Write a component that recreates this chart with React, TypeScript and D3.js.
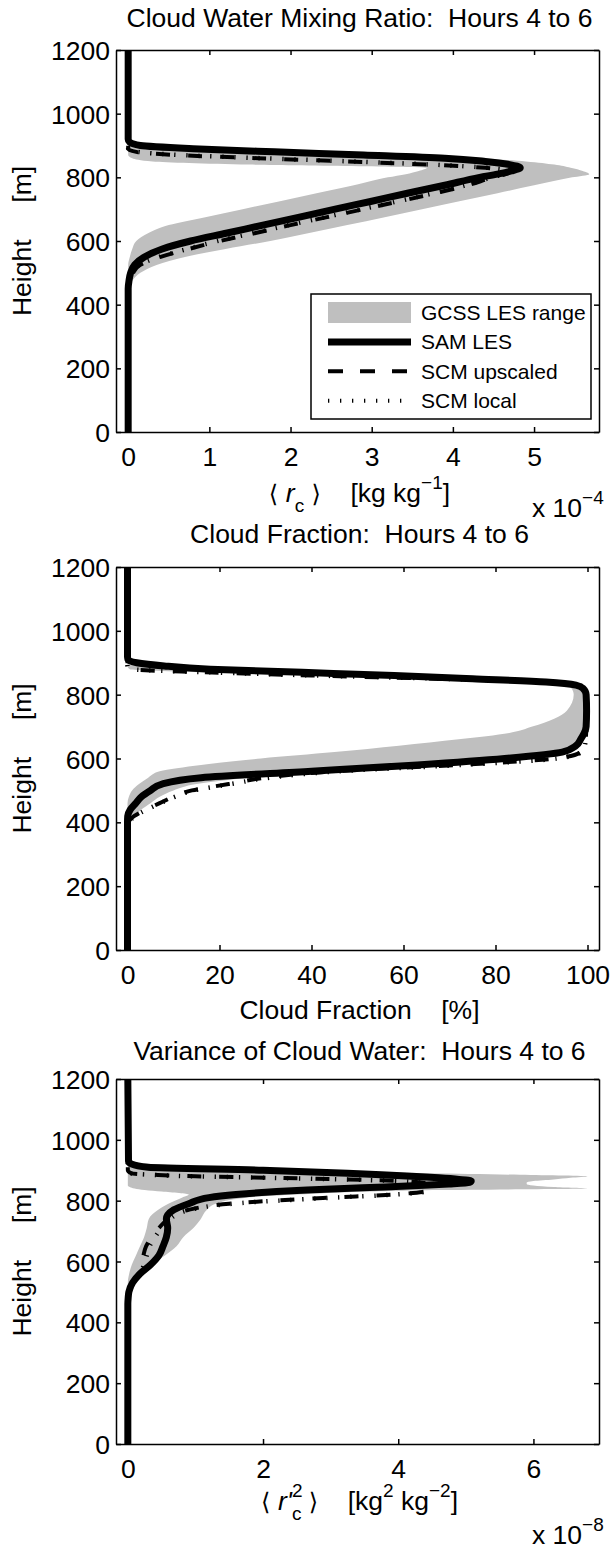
import { useRef, useEffect } from 'react';
import * as d3 from 'd3';

const W = 613;
const H = 1549;
const LEFT = 116;
const RIGHT = 599;
const FONT = 'Liberation Sans, Arial, Helvetica, sans-serif';
const FS = 26.5;
const GRAY = '#bfbfbf';

const heightTicks = [0, 200, 400, 600, 800, 1000, 1200];
const legendLabels = ['GCSS LES range', 'SAM LES', 'SCM upscaled', 'SCM local'];

// cloud water mixing ratio, x 1e-4 kg/kg
const rcHeight = [0, 425, 450, 475, 500, 525, 550, 575, 600, 625, 650, 675, 700, 725, 750, 775, 800, 810, 820, 830, 840, 850, 860, 870, 880, 890, 900, 910, 920, 1200];
const rcLesMin = [0, 0, 0, 0, 0, 0, 0.02, 0.05, 0.1, 0.25, 0.5, 0.95, 1.41, 1.87, 2.32, 2.78, 3.2, 3.42, 3.58, 3.68, 1.5, 0.3, 0.05, 0, 0, 0, 0, 0, 0, 0];
const rcLesMax = [0, 0, 0, 0.05, 0.15, 0.35, 0.7, 1.2, 1.75, 2.23, 2.7, 3.16, 3.62, 4.08, 4.55, 5.0, 5.47, 5.68, 5.6, 5.45, 5.25, 4.9, 4.3, 3.4, 2.4, 1.4, 0.6, 0.15, 0.02, 0];
const rcSam = [0, 0, 0, 0.01, 0.03, 0.08, 0.2, 0.42, 0.77, 1.22, 1.66, 2.11, 2.55, 3.0, 3.44, 3.9, 4.33, 4.55, 4.72, 4.83, 4.7, 4.4, 3.9, 2.9, 1.8, 0.8, 0.15, 0.02, 0, 0];
const rcUpscaled = [0, 0, 0, 0.02, 0.06, 0.15, 0.4, 0.75, 1.13, 1.57, 2.0, 2.45, 2.9, 3.35, 3.78, 4.18, 4.5, 4.65, 4.72, 4.4, 3.7, 2.7, 1.6, 0.6, 0.1, 0, 0, 0, 0, 0];
const rcLocal = [0, 0, 0, 0.02, 0.05, 0.14, 0.38, 0.73, 1.1, 1.55, 1.98, 2.43, 2.88, 3.33, 3.76, 4.16, 4.48, 4.63, 4.7, 4.42, 3.75, 2.75, 1.65, 0.65, 0.12, 0, 0, 0, 0, 0];
const rcTicks = [0, 1, 2, 3, 4, 5];

// cloud fraction, %
const cfHeight = [0, 380, 400, 420, 440, 460, 480, 500, 520, 540, 560, 580, 600, 620, 640, 660, 680, 700, 750, 800, 820, 830, 840, 850, 860, 870, 880, 890, 900, 910, 920, 1200];
const cfLesMin = [0, 0, 0, 0, 0, 0, 0.3, 1, 2.5, 4.5, 7, 16, 29, 45, 59, 72, 83, 88, 95.5, 97, 96.5, 95, 91, 67, 40, 17, 0.5, 0, 0, 0, 0, 0];
const cfLesMax = [0, 0, 0.5, 1.5, 3, 5, 7, 10, 15, 27, 50, 72, 88, 96, 98.5, 99.2, 99.4, 99.4, 99.4, 99.4, 99.2, 98.8, 97, 90, 72, 50, 28, 12, 4, 1, 0, 0];
const cfSam = [0, 0, 0, 0.05, 0.6, 1.8, 3, 5, 7.5, 16, 40, 63, 82, 94.5, 97.5, 98.5, 99.3, 99.7, 99.8, 99.7, 99, 97.5, 91, 75, 58, 38, 18, 8, 2, 0.1, 0, 0];
const cfUpscaled = [0, 0, 0.2, 1.5, 4, 7, 10, 14, 22, 30, 45, 72, 93, 98.5, 99.4, 99.6, 99.7, 99.7, 99.7, 99.7, 99.5, 98, 91, 67, 40, 17, 0.5, 0, 0, 0, 0, 0];
const cfLocal = [0, 0, 0.3, 1.7, 4.2, 7.2, 10.3, 14.5, 22.5, 31, 46, 73, 93.5, 98.6, 99.4, 99.6, 99.7, 99.7, 99.7, 99.7, 99.5, 98, 91.5, 68, 41, 18, 0.8, 0, 0, 0, 0, 0];
const cfTicks = [0, 20, 40, 60, 80, 100];

// variance of cloud water, x 1e-8 kg^2/kg^2
const vrHeight = [0, 460, 480, 500, 530, 560, 590, 620, 650, 680, 710, 740, 770, 790, 810, 820, 830, 835, 840, 845, 850, 855, 860, 865, 870, 875, 880, 885, 890, 900, 910, 920, 930, 1200];
const vrLesMin = [0, 0, 0, 0, 0, 0.02, 0.06, 0.12, 0.18, 0.24, 0.28, 0.31, 0.45, 0.6, 0.8, 0.9, 0.5, 0.25, 0.1, 0.03, 0, 0, 0, 0, 0, 0, 0, 0, 0, 0, 0, 0, 0, 0];
const vrLesMax = [0, 0, 0.02, 0.05, 0.1, 0.2, 0.33, 0.55, 0.72, 0.82, 0.97, 1.08, 1.17, 1.3, 1.75, 2.5, 3.6, 4.6, 6.8, 6.3, 6.0, 5.9, 5.9, 6.0, 6.3, 6.55, 6.8, 5.8, 4.46, 3.0, 1.5, 0.4, 0.05, 0];
const vrSam = [0, 0, 0.005, 0.015, 0.07, 0.18, 0.34, 0.46, 0.52, 0.57, 0.59, 0.57, 0.68, 0.9, 1.2, 1.6, 2.2, 2.65, 3.2, 3.8, 4.3, 4.75, 5.05, 5.08, 4.9, 4.6, 4.2, 3.75, 3.25, 2.0, 0.3, 0.06, 0.01, 0];
const vrUpscaled = [0, 0, 0.01, 0.02, 0.06, 0.16, 0.2, 0.23, 0.27, 0.35, 0.46, 0.6, 0.9, 1.5, 3.0, 3.9, 4.4, 4.46, 4.46, 4.47, 4.47, 4.46, 4.35, 4.0, 3.2, 2.2, 1.0, 0.4, 0.05, 0, 0, 0, 0, 0];
const vrLocal = [0, 0, 0.01, 0.03, 0.08, 0.18, 0.24, 0.28, 0.32, 0.4, 0.5, 0.62, 0.92, 1.55, 3.05, 3.95, 4.42, 4.47, 4.47, 4.48, 4.47, 4.45, 4.3, 3.95, 3.15, 2.15, 0.95, 0.35, 0.04, 0, 0, 0, 0, 0];
const vrTicks = [0, 2, 4, 6];

type Txt = d3.Selection<SVGTextElement, unknown, null, undefined>;

function sub(t: Txt, s: string, dy: number, extra: Record<string, string | number> = {}) {
  const ts = t.append('tspan').attr('dy', dy).text(s);
  Object.entries(extra).forEach(([k, v]) => ts.attr(k, v));
  return ts;
}

const panels = [
  {
    key: 'rc',
    top: 50,
    bottom: 432,
    xDomain: [-0.15, 5.8],
    ticks: rcTicks,
    height: rcHeight,
    lesMin: rcLesMin,
    lesMax: rcLesMax,
    sam: rcSam,
    upscaled: rcUpscaled,
    local: rcLocal,
    title: 'Cloud Water Mixing Ratio:  Hours 4 to 6',
    titleY: 27,
    labelY: 502,
    label: (t: Txt) => {
      sub(t, '\u27E8 ', 0, { 'font-family': 'DejaVu Sans', 'font-size': 24 });
      sub(t, 'r', 0, { 'font-style': 'italic' });
      sub(t, 'c', 10, { 'font-size': 19 });
      sub(t, ' ', -10);
      sub(t, '\u27E9', 0, { 'font-family': 'DejaVu Sans', 'font-size': 24 });
      sub(t, '    [kg kg', 0);
      sub(t, '\u22121', -13, { 'font-size': 19 });
      sub(t, ']', 13);
    },
    exponent: '\u22124',
    expY: 517,
  },
  {
    key: 'cf',
    top: 567,
    bottom: 950,
    xDomain: [-2.5, 102.5],
    ticks: cfTicks,
    height: cfHeight,
    lesMin: cfLesMin,
    lesMax: cfLesMax,
    sam: cfSam,
    upscaled: cfUpscaled,
    local: cfLocal,
    title: 'Cloud Fraction:  Hours 4 to 6',
    titleY: 543,
    labelY: 1019,
    label: (t: Txt) => {
      sub(t, 'Cloud Fraction    [%]', 0);
    },
    exponent: null,
    expY: 0,
  },
  {
    key: 'vr',
    top: 1079,
    bottom: 1444,
    xDomain: [-0.175, 6.97],
    ticks: vrTicks,
    height: vrHeight,
    lesMin: vrLesMin,
    lesMax: vrLesMax,
    sam: vrSam,
    upscaled: vrUpscaled,
    local: vrLocal,
    title: 'Variance of Cloud Water:  Hours 4 to 6',
    titleY: 1060,
    labelY: 1510,
    label: (t: Txt) => {
      sub(t, '\u27E8 ', 0, { 'font-family': 'DejaVu Sans', 'font-size': 24 });
      sub(t, "r'", 0, { 'font-style': 'italic' });
      sub(t, '2', -13, { 'font-size': 19 });
      sub(t, 'c', 23, { 'font-size': 19, dx: -10.5 });
      sub(t, ' ', -10);
      sub(t, '\u27E9', 0, { 'font-family': 'DejaVu Sans', 'font-size': 24 });
      sub(t, '    [kg', 0);
      sub(t, '2', -13, { 'font-size': 19 });
      sub(t, ' kg', 13);
      sub(t, '\u22122', -13, { 'font-size': 19 });
      sub(t, ']', 13);
    },
    exponent: '\u22128',
    expY: 1544,
  },
];

type Panel = (typeof panels)[number];

function styleAxis(g: d3.Selection<SVGGElement, unknown, null, undefined>) {
  g.attr('font-size', FS).attr('font-family', FONT);
  g.selectAll('path, line').attr('stroke', '#000').attr('stroke-width', 1.5);
  g.selectAll('text').attr('fill', '#000');
}

function drawPanel(svg: d3.Selection<SVGSVGElement, unknown, null, undefined>, p: Panel) {
  const x = d3.scaleLinear().domain(p.xDomain).range([LEFT, RIGHT]);
  const y = d3.scaleLinear().domain([0, 1200]).range([p.bottom, p.top]);
  const idx = d3.range(p.height.length);

  const g = svg.append('g');
  g.append('clipPath')
    .attr('id', `clip-${p.key}`)
    .append('rect')
    .attr('x', LEFT)
    .attr('y', p.top)
    .attr('width', RIGHT - LEFT)
    .attr('height', p.bottom - p.top);

  const plot = g.append('g').attr('clip-path', `url(#clip-${p.key})`);

  const band = d3
    .area<number>()
    .curve(d3.curveMonotoneY)
    .y((i) => y(p.height[i]))
    .x0((i) => x(p.lesMin[i]))
    .x1((i) => x(p.lesMax[i]));
  plot.append('path').attr('d', band(idx)).attr('fill', GRAY);

  const line = (vals: number[]) =>
    d3
      .line<number>()
      .curve(d3.curveMonotoneY)
      .x((i) => x(vals[i]))
      .y((i) => y(p.height[i]))(idx);

  plot
    .append('path')
    .attr('d', line(p.sam))
    .attr('fill', 'none')
    .attr('stroke', '#000')
    .attr('stroke-width', 7);
  plot
    .append('path')
    .attr('d', line(p.upscaled))
    .attr('fill', 'none')
    .attr('stroke', '#000')
    .attr('stroke-width', 4)
    .attr('stroke-dasharray', '14 18');
  plot
    .append('path')
    .attr('d', line(p.local))
    .attr('fill', 'none')
    .attr('stroke', '#000')
    .attr('stroke-width', 4.5)
    .attr('stroke-dasharray', '1.3 10.7');

  // MATLAB-style box with inward ticks
  const left = g
    .append('g')
    .attr('transform', `translate(${LEFT},0)`)
    .call(d3.axisLeft(y).tickValues(heightTicks).tickSizeInner(-5).tickSizeOuter(0).tickPadding(6).tickFormat(d3.format('d')));
  styleAxis(left);
  left.selectAll('text').attr('dy', '0.36em');

  const right = g
    .append('g')
    .attr('transform', `translate(${RIGHT},0)`)
    .call(d3.axisRight(y).tickValues(heightTicks).tickSizeInner(-5).tickSizeOuter(0).tickFormat(() => ''));
  styleAxis(right);

  const bottom = g
    .append('g')
    .attr('transform', `translate(0,${p.bottom})`)
    .call(d3.axisBottom(x).tickValues(p.ticks).tickSizeInner(-5).tickSizeOuter(0).tickPadding(15).tickFormat(d3.format('d')));
  styleAxis(bottom);

  const topAxis = g
    .append('g')
    .attr('transform', `translate(0,${p.top})`)
    .call(d3.axisTop(x).tickValues(p.ticks).tickSizeInner(-5).tickSizeOuter(0).tickFormat(() => ''));
  styleAxis(topAxis);

  const cx = (LEFT + RIGHT) / 2 + 2;
  g.append('text')
    .attr('x', cx)
    .attr('y', p.titleY)
    .attr('text-anchor', 'middle')
    .attr('font-family', FONT)
    .attr('font-size', FS)
    .style('white-space', 'pre')
    .text(p.title);

  const lab = g
    .append('text')
    .attr('x', cx)
    .attr('y', p.labelY)
    .attr('text-anchor', 'middle')
    .attr('font-family', FONT)
    .attr('font-size', FS)
    .style('white-space', 'pre');
  p.label(lab);

  g.append('text')
    .attr('transform', `translate(31,${(p.top + p.bottom) / 2}) rotate(-90)`)
    .attr('text-anchor', 'middle')
    .attr('font-family', FONT)
    .attr('font-size', FS)
    .style('white-space', 'pre')
    .text('Height     [m]');

  if (p.exponent) {
    const ex = g
      .append('text')
      .attr('x', 532)
      .attr('y', p.expY)
      .attr('font-family', FONT)
      .attr('font-size', FS)
      .style('white-space', 'pre')
      .text('x 10');
    sub(ex, p.exponent, -13, { 'font-size': 19 });
  }
}

function drawLegend(svg: d3.Selection<SVGSVGElement, unknown, null, undefined>) {
  const box = { x: 311, y: 294, w: 280, h: 125 };
  const g = svg.append('g');
  g.append('rect')
    .attr('x', box.x)
    .attr('y', box.y)
    .attr('width', box.w)
    .attr('height', box.h)
    .attr('fill', '#fff')
    .attr('stroke', '#000')
    .attr('stroke-width', 1.5);

  const rows = d3.scalePoint<string>().domain(legendLabels).range([312.5, 400.7]);
  const x1 = 328;
  const x2 = 411;

  legendLabels.forEach((name, i) => {
    const cy = rows(name) as number;
    if (i === 0) {
      g.append('rect').attr('x', x1).attr('y', cy - 10.5).attr('width', x2 - x1).attr('height', 21).attr('fill', GRAY);
    } else {
      const ln = g
        .append('line')
        .attr('x1', x1)
        .attr('x2', x2)
        .attr('y1', cy)
        .attr('y2', cy)
        .attr('stroke', '#000');
      if (i === 1) ln.attr('stroke-width', 7);
      if (i === 2) ln.attr('stroke-width', 4).attr('stroke-dasharray', '15 17');
      if (i === 3) ln.attr('stroke-width', 4).attr('stroke-dasharray', '1.3 10.7');
    }
    g.append('text')
      .attr('x', 421)
      .attr('y', cy + 7.5)
      .attr('font-family', FONT)
      .attr('font-size', 21)
      .text(name);
  });
}

export default function App() {
  const svgRef = useRef<SVGSVGElement>(null);

  useEffect(() => {
    const svg = d3.select(svgRef.current as SVGSVGElement);
    svg.selectAll('*').remove();
    panels.forEach((p) => drawPanel(svg, p));
    drawLegend(svg);
  }, []);

  return (
    <svg
      ref={svgRef}
      width={W}
      height={H}
      viewBox={`0 0 ${W} ${H}`}
      style={{ position: 'absolute', left: 0, top: 0, background: '#fff' }}
    />
  );
}
